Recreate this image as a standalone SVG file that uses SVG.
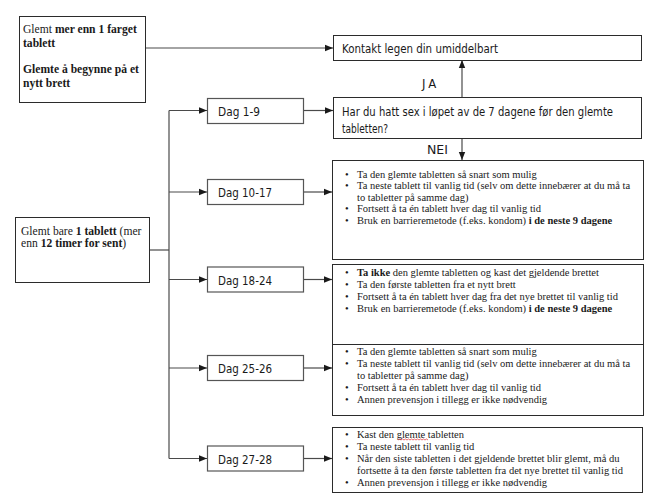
<svg xmlns="http://www.w3.org/2000/svg" width="650" height="498" viewBox="0 0 650 498">
<defs>
<marker id="ah" viewBox="0 0 8 8" refX="8" refY="4" markerWidth="8" markerHeight="8" markerUnits="userSpaceOnUse" orient="auto">
<path d="M0,0.8 L8,4 L0,7.2 Z" fill="#1a1a1a"/>
</marker>
<style>
.box{fill:#fff;stroke:#2b2b2b;stroke-width:1}
.dag{fill:#fff;stroke:#555;stroke-width:1.2}
.ln{fill:none;stroke:#4a4a4a;stroke-width:1.2}
.sans{font-family:"DejaVu Sans","Liberation Sans",sans-serif;font-stretch:condensed;font-size:13px;fill:#1a1a1a}
.s12{font-size:12.2px}
.ser{font-family:"Liberation Serif","Times New Roman",serif;font-size:10.5px;fill:#1a1a1a}
.ser2{font-family:"Liberation Serif","Times New Roman",serif;font-size:11.6px;fill:#1a1a1a}
.b{font-weight:bold}
</style>
</defs>
<rect width="650" height="498" fill="#fff"/>

<g id="connectors">
<line class="ln" x1="145" y1="48" x2="333" y2="48" marker-end="url(#ah)"/>
<line class="ln" x1="462" y1="97" x2="462" y2="60" marker-end="url(#ah)"/>
<line class="ln" x1="462" y1="138" x2="462" y2="160" marker-end="url(#ah)"/>
<line class="ln" x1="150" y1="250" x2="169" y2="250"/>
<line class="ln" x1="169" y1="110.5" x2="169" y2="458.5"/>
<line class="ln" x1="169" y1="110.5" x2="207" y2="110.5" marker-end="url(#ah)"/>
<line class="ln" x1="169" y1="192" x2="207" y2="192" marker-end="url(#ah)"/>
<line class="ln" x1="169" y1="279.5" x2="207" y2="279.5" marker-end="url(#ah)"/>
<line class="ln" x1="169" y1="368" x2="207" y2="368" marker-end="url(#ah)"/>
<line class="ln" x1="169" y1="458.5" x2="207" y2="458.5" marker-end="url(#ah)"/>
<line class="ln" x1="303" y1="110.5" x2="333" y2="110.5" marker-end="url(#ah)"/>
<line class="ln" x1="303" y1="192" x2="332" y2="192" marker-end="url(#ah)"/>
<line class="ln" x1="303" y1="279.5" x2="332" y2="279.5" marker-end="url(#ah)"/>
<line class="ln" x1="303" y1="368" x2="332" y2="368" marker-end="url(#ah)"/>
<line class="ln" x1="303" y1="458.5" x2="332" y2="458.5" marker-end="url(#ah)"/>
<text class="sans" x="422" y="88" letter-spacing="3">JA</text>
<text class="sans" x="427" y="154" textLength="21" lengthAdjust="spacingAndGlyphs">NEI</text>
</g>

<g id="glemt-farget">
<rect class="box" x="19.5" y="16.5" width="126" height="86"/>
<text class="ser2" x="23" y="33">Glemt <tspan class="b">mer enn 1 farget</tspan></text>
<text class="ser2 b" x="23" y="47">tablett</text>
<text class="ser2 b" x="23" y="73">Glemte å begynne på et</text>
<text class="ser2 b" x="23" y="87">nytt brett</text>
</g>

<g id="glemt-bare">
<rect class="box" x="15.5" y="217.5" width="134" height="65"/>
<text class="ser2" x="21" y="235">Glemt bare <tspan class="b">1 tablett</tspan> (mer</text>
<text class="ser2" x="21" y="247">enn <tspan class="b">12 timer for sent</tspan>)</text>
</g>

<g id="kontakt">
<rect class="box" x="333.5" y="35.5" width="308" height="25"/>
<text class="sans" x="342" y="52.5" textLength="156" lengthAdjust="spacingAndGlyphs">Kontakt legen din umiddelbart</text>
</g>

<g id="sex">
<rect class="box" x="333.5" y="97.5" width="308" height="41"/>
<text class="sans s12" x="342" y="115.5" textLength="271" lengthAdjust="spacingAndGlyphs">Har du hatt sex i løpet av de 7 dagene før den glemte</text>
<text class="sans s12" x="342" y="132.5" textLength="46" lengthAdjust="spacingAndGlyphs">tabletten?</text>
</g>

<g id="dag1-9">
<rect class="dag" x="207.5" y="98.5" width="96" height="25"/>
<text class="sans" x="218" y="116" textLength="42" lengthAdjust="spacingAndGlyphs">Dag 1-9</text>
</g>
<g id="dag10-17">
<rect class="dag" x="207.5" y="179.5" width="96" height="25"/>
<text class="sans" x="218" y="197" textLength="54" lengthAdjust="spacingAndGlyphs">Dag 10-17</text>
</g>
<g id="dag18-24">
<rect class="dag" x="207.5" y="267" width="96" height="25"/>
<text class="sans" x="218" y="284.5" textLength="54" lengthAdjust="spacingAndGlyphs">Dag 18-24</text>
</g>
<g id="dag25-26">
<rect class="dag" x="207.5" y="355.5" width="96" height="25"/>
<text class="sans" x="218" y="373" textLength="54" lengthAdjust="spacingAndGlyphs">Dag 25-26</text>
</g>
<g id="dag27-28">
<rect class="dag" x="207.5" y="446" width="96" height="25"/>
<text class="sans" x="218" y="463.5" textLength="54" lengthAdjust="spacingAndGlyphs">Dag 27-28</text>
</g>

<g id="r10-17">
<rect class="box" x="332.5" y="160.5" width="311" height="99"/>
<g class="ser">
<text x="345" y="177.5">•</text><text x="357" y="177.5">Ta den glemte tabletten så snart som mulig</text>
<text x="345" y="189">•</text><text x="357" y="189">Ta neste tablett til vanlig tid (selv om dette innebærer at du må ta</text>
<text x="357" y="200.5">to tabletter på samme dag)</text>
<text x="345" y="212">•</text><text x="357" y="212">Fortsett å ta én tablett hver dag til vanlig tid</text>
<text x="345" y="223.5">•</text><text x="357" y="223.5">Bruk en barrieremetode (f.eks. kondom) <tspan class="b">i de neste 9 dagene</tspan></text>
</g>
</g>

<g id="r18-24">
<rect class="box" x="332.5" y="264.5" width="311" height="80"/>
<g class="ser">
<text x="345" y="276">•</text><text x="357" y="276"><tspan class="b">Ta ikke</tspan> den glemte tabletten og kast det gjeldende brettet</text>
<text x="345" y="288">•</text><text x="357" y="288">Ta den første tabletten fra et nytt brett</text>
<text x="345" y="300">•</text><text x="357" y="300">Fortsett å ta én tablett hver dag fra det nye brettet til vanlig tid</text>
<text x="345" y="312">•</text><text x="357" y="312">Bruk en barrieremetode (f.eks. kondom) <tspan class="b">i de neste 9 dagene</tspan></text>
</g>
</g>

<g id="r25-26">
<rect class="box" x="332.5" y="344.5" width="311" height="71"/>
<g class="ser">
<text x="345" y="354.5">•</text><text x="357" y="354.5">Ta den glemte tabletten så snart som mulig</text>
<text x="345" y="366.5">•</text><text x="357" y="366.5">Ta neste tablett til vanlig tid (selv om dette innebærer at du må ta</text>
<text x="357" y="378.5">to tabletter på samme dag)</text>
<text x="345" y="390.5">•</text><text x="357" y="390.5">Fortsett å ta én tablett hver dag til vanlig tid</text>
<text x="345" y="402.5">•</text><text x="357" y="402.5">Annen prevensjon i tillegg er ikke nødvendig</text>
</g>
</g>

<g id="r27-28">
<rect class="box" x="332.5" y="427.5" width="310" height="65"/>
<g class="ser">
<text x="345" y="437.5">•</text><text x="357" y="437.5">Kast den glemte tabletten</text>
<text x="345" y="449.5">•</text><text x="357" y="449.5">Ta neste tablett til vanlig tid</text>
<text x="345" y="461.5">•</text><text x="357" y="461.5">Når den siste tabletten i det gjeldende brettet blir glemt, må du</text>
<text x="357" y="473.5">fortsette å ta den første tabletten fra det nye brettet til vanlig tid</text>
<text x="345" y="485.5">•</text><text x="357" y="485.5">Annen prevensjon i tillegg er ikke nødvendig</text>
</g>
<path d="M398,440 l1.5,-1 l1.5,1 l1.5,-1 l1.5,1 l1.5,-1 l1.5,1 l1.5,-1 l1.5,1 l1.5,-1 l1.5,1 l1.5,-1 l1.5,1 l1.5,-1 l1.5,1 l1.5,-1 l1.5,1 l1.5,-1 l1.5,1 l1.5,-1 l1.5,1" fill="none" stroke="#e03030" stroke-width="0.7"/>
</g>
</svg>
